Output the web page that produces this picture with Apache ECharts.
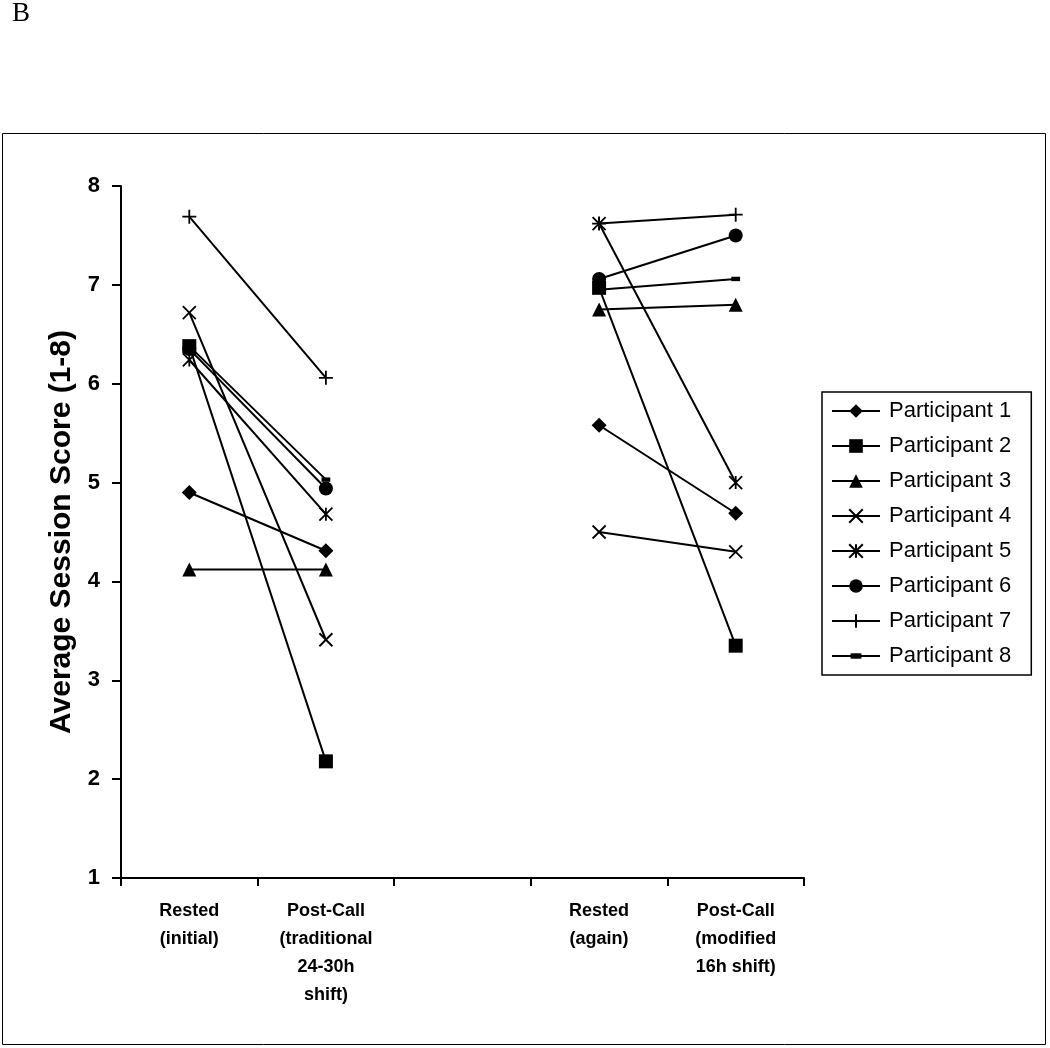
<!DOCTYPE html>
<html>
<head>
<meta charset="utf-8">
<script src="https://cdn.jsdelivr.net/npm/echarts@6/dist/echarts.min.js"></script>
<style>
html,body{margin:0;padding:0;background:#fff;}
#chart{width:1050px;height:1048px;}
</style>
</head>
<body>
<div id="chart"></div>
<script>
const categories = ['Rested\n(initial)', 'Post-Call\n(traditional\n24-30h\nshift)', '', 'Rested\n(again)', 'Post-Call\n(modified\n16h shift)'];
const yTicks = [1, 2, 3, 4, 5, 6, 7, 8];
const participantNames = ['Participant 1','Participant 2','Participant 3','Participant 4','Participant 5','Participant 6','Participant 7','Participant 8'];
const p1 = [4.90, 4.31, '-', 5.58, 4.69];
const p2 = [6.38, 2.18, '-', 6.97, 3.35];
const p3 = [4.12, 4.12, '-', 6.75, 6.80];
const p4 = [6.72, 3.41, '-', 4.50, 4.30];
const p5 = [6.24, 4.68, '-', 7.62, 5.00];
const p6 = [6.35, 4.94, '-', 7.06, 7.50];
const p7 = [7.69, 6.06, '-', 7.62, 7.71];
const p8 = [6.38, 5.03, '-', 6.95, 7.06];
const seriesValues = [p1, p2, p3, p4, p5, p6, p7, p8];

const X_PATH = 'path://M0,0L10,10M10,0L0,10';
const AST_PATH = 'path://M0,0L10,10M10,0L0,10M5,0L5,10';
const PLUS_PATH = 'path://M5,0L5,10M0,5L10,5';
const DASH_PATH = 'path://M0,0M10,10M1,3L9,3L9,7L1,7Z';

const markerDefs = [
  {symbol:'diamond', size:15, stroke:false},
  {symbol:'rect', size:14, stroke:false, z:4},
  {symbol:'triangle', size:14, stroke:false},
  {symbol:X_PATH, size:13, stroke:true},
  {symbol:AST_PATH, size:13, stroke:true},
  {symbol:'circle', size:14, stroke:false},
  {symbol:PLUS_PATH, size:14, stroke:true},
  {symbol:DASH_PATH, size:11, stroke:false}
];

const series = seriesValues.map((vals, i) => {
  const m = markerDefs[i];
  return {
    name: participantNames[i],
    type: 'line',
    data: vals,
    connectNulls: false,
    symbol: m.symbol,
    symbolSize: m.size,
    showAllSymbol: true,
    z: m.z || 2,
    lineStyle: {color:'#000', width:2},
    itemStyle: m.stroke ? {color:'#000', borderColor:'#000', borderWidth:1.8} : {color:'#000', borderWidth:0},
    emphasis: {disabled:true},
    animation: false
  };
});

const chart = echarts.init(document.getElementById('chart'), null, {renderer:'canvas'});
chart.setOption({
  animation: false,
  backgroundColor: '#fff',
  grid: {left:121, right:246, top:186, bottom:170, containLabel:false},
  xAxis: {
    type: 'category',
    data: categories,
    boundaryGap: true,
    axisLine: {lineStyle:{color:'#000', width:2}},
    axisTick: {show:true, length:8, lineStyle:{color:'#000', width:2}},
    axisLabel: {
      color:'#000', fontWeight:'bold', fontSize:18,
      fontFamily:'Arial, "Liberation Sans", sans-serif',
      lineHeight:28, margin:19, interval:0
    },
    splitLine: {show:false}
  },
  yAxis: {
    type: 'value',
    min: 1, max: 8, interval: 1,
    name: 'Average Session Score (1-8)',
    nameLocation: 'middle',
    nameRotate: 90,
    nameGap: 44,
    nameTextStyle: {color:'#000', fontWeight:'bold', fontSize:30, fontFamily:'Arial, "Liberation Sans", sans-serif'},
    axisLine: {show:true, lineStyle:{color:'#000', width:2}},
    axisTick: {show:true, length:9, lineStyle:{color:'#000', width:2}},
    axisLabel: {
      color:'#000', fontWeight:'bold', fontSize:22, margin:21,
      fontFamily:'Arial, "Liberation Sans", sans-serif',
      formatter: v => (yTicks.indexOf(v) >= 0 ? String(v) : '')
    },
    splitLine: {show:false}
  },
  legend: {
    orient: 'vertical',
    left: 822, top: 392,
    padding: [8, 20, 8, 9],
    itemWidth: 48, itemHeight: 17, itemGap: 13,
    borderColor: '#000', borderWidth: 1.5,
    backgroundColor: '#fff',
    textStyle: {color:'#000', fontSize:22, fontFamily:'Arial, "Liberation Sans", sans-serif', padding:[0,0,0,4]},
    data: participantNames,
    selectedMode: false
  },
  graphic: [
    {type:'rect', shape:{x:2.5, y:133.5, width:1043, height:911}, style:{fill:'none', stroke:'#000', lineWidth:1}, silent:true, z:-1},
    {type:'text', left:12, top:0, style:{text:'B', fontSize:27, fontFamily:'"Liberation Serif", "Times New Roman", serif', fill:'#000'}}
  ],
  series: series
});
</script>
</body>
</html>
